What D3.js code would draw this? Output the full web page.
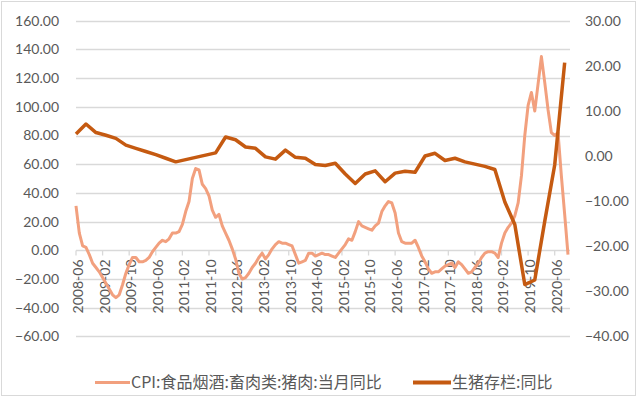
<!DOCTYPE html>
<html lang="zh-CN">
<head>
  <meta charset="utf-8">
  <title>CPI猪肉当月同比与生猪存栏同比</title>
  <script src="https://d3js.org/d3.v7.min.js"></script>
  <style>
body { margin: 0; background: #ffffff; }
#chart text { font-family: Lato, "Noto Sans CJK SC", sans-serif; fill: #595959; }
</style>
</head>
<body>
<div id="chart"></div>
<script>

// monthly categories 2008-06 .. 2020-10
var months = d3.timeMonth.range(new Date(2008, 5, 1), new Date(2020, 10, 1)).map(d3.timeFormat("%Y-%m"));

// tick labels shown on the category axis (every 8 months)
var xTickLabels = ["2008-06", "2009-02", "2009-10", "2010-06", "2011-02", "2011-10", "2012-06",
  "2013-02", "2013-10", "2014-06", "2015-02", "2015-10", "2016-06", "2017-02", "2017-10",
  "2018-06", "2019-02", "2019-10", "2020-06"];

var leftTicks = [-60, -40, -20, 0, 20, 40, 60, 80, 100, 120, 140, 160];
var rightTicks = [-40, -30, -20, -10, 0, 10, 20, 30];

// CPI:食品烟酒:畜肉类:猪肉:当月同比 (monthly, left axis)
var cpiPork = [
  31, 12, 3, 2, -3, -9, -12,
  -15, -19, -23, -27, -31, -33, -31, -24, -16, -10, -5, -5,
  -8, -8, -7, -5, -1, 2, 5, 7, 6, 8, 12, 12,
  13, 18, 27, 34, 50, 57, 56, 46, 43, 38, 28, 23,
  25, 17, 12, 7, 1, -6, -16, -20, -19, -16, -12, -9,
  -5, -2, -6, -3, 1, 4, 6, 5, 5, 4, 3, -3,
  -9, -8, -7, -2, -2, -4, -3, -2, -3, -3, -4, -5,
  -2, 1, 4, 8, 7, 13, 20, 17, 16, 15, 14, 17,
  19, 27, 31, 34, 33, 26, 12, 6, 5, 5, 5, 7,
  2, -4, -8, -13, -16, -15, -15, -13, -11, -10, -9, -12,
  -8, -10, -13, -16, -15, -12, -9, -5, -2, -1, -1, -2,
  -5, 5, 12, 16, 19, 24, 33, 52, 80, 101, 110, 97,
  116, 135, 117, 98, 82, 80, 82, 52, 25, -3
];

// 生猪存栏:同比 (quarterly, right axis)
var hogMonths = ["2008-06", "2008-09", "2008-12", "2009-03", "2009-06", "2009-09", "2009-12",
  "2010-03", "2010-06", "2010-09", "2010-12", "2011-03", "2011-06", "2011-09", "2011-12",
  "2012-03", "2012-06", "2012-09", "2012-12", "2013-03", "2013-06", "2013-09", "2013-12",
  "2014-03", "2014-06", "2014-09", "2014-12", "2015-03", "2015-06", "2015-09", "2015-12",
  "2016-03", "2016-06", "2016-09", "2016-12", "2017-03", "2017-06", "2017-09", "2017-12",
  "2018-03", "2018-06", "2018-09", "2018-12", "2019-03", "2019-06", "2019-09", "2019-12",
  "2020-03", "2020-06", "2020-09"];
var hogInventory = [4.9, 7.1, 5.2, 4.6, 3.9, 2.4, 1.7,
  1.0, 0.3, -0.5, -1.3, -0.8, -0.3, 0.2, 0.7,
  4.2, 3.6, 2.0, 1.7, -0.2, -0.7, 1.3, -0.3,
  -0.5, -1.9, -2.1, -1.6, -4.0, -6.1, -4.0, -3.3,
  -5.7, -3.8, -3.4, -3.6, 0.0, 0.6, -1.0, -0.5,
  -1.3, -1.8, -2.3, -3.0, -10.2, -15.2, -28.5, -27.5,
  -14.5, -2.0, 20.7];

var seriesNames = ["CPI:食品烟酒:畜肉类:猪肉:当月同比", "生猪存栏:同比"];
var colors = ["#F2A07E", "#C55A11"];

var width = 640, height = 399;
var plot = {left: 76, right: 568, top: 20.7, bottom: 336.4};

var svg = d3.select("#chart")
  .append("svg")
    .attr("width", width)
    .attr("height", height);

// outer frame
svg.append("rect")
  .attr("x", 1.5).attr("y", 1.5)
  .attr("width", 634).attr("height", 394)
  .attr("fill", "none")
  .attr("stroke", "#D9D9D9");

var x = d3.scalePoint().domain(months).range([plot.left, plot.right]);
var yL = d3.scaleLinear().domain([-60, 160]).range([plot.bottom, plot.top]);
var yR = d3.scaleLinear().domain([-40, 30]).range([plot.bottom, plot.top]);

// gridlines
svg.append("g")
  .selectAll("line")
  .data(leftTicks)
  .enter()
  .append("line")
    .attr("x1", plot.left).attr("x2", plot.right + 2)
    .attr("y1", function(d) { return Math.round(yL(d)) + 0.5; })
    .attr("y2", function(d) { return Math.round(yL(d)) + 0.5; })
    .attr("stroke", "#D9D9D9")
    .attr("stroke-width", 1.3);

// left axis
var leftAxis = svg.append("g")
  .attr("transform", "translate(" + (plot.left - 17) + ",0)")
  .call(d3.axisLeft(yL).tickValues(leftTicks).tickFormat(d3.format(".2f")).tickSize(0));
leftAxis.select(".domain").remove();
leftAxis.selectAll("text").attr("x", 0).style("font-size", "14px");

// right axis
var rightAxis = svg.append("g")
  .attr("transform", "translate(" + (plot.right + 17) + ",0)")
  .call(d3.axisRight(yR).tickValues(rightTicks).tickFormat(d3.format(".2f")).tickSize(0));
rightAxis.select(".domain").remove();
rightAxis.selectAll("text").attr("x", 0).style("font-size", "14px");

// category axis sits on the zero line of the left axis
var y0 = Math.round(yL(0)) + 0.5;
var catAxis = svg.append("g");
catAxis.selectAll("line")
  .data(xTickLabels)
  .enter()
  .append("line")
    .attr("x1", function(d) { return x(d); })
    .attr("x2", function(d) { return x(d); })
    .attr("y1", y0).attr("y2", y0 + 5)
    .attr("stroke", "#D9D9D9")
    .attr("stroke-width", 1.3);
catAxis.selectAll("text")
  .data(xTickLabels)
  .enter()
  .append("text")
    .attr("transform", function(d) { return "translate(" + (x(d) + 2) + "," + (y0 + 9) + ") rotate(-90)"; })
    .attr("dy", "0.35em")
    .attr("text-anchor", "end")
    .style("font-size", "14px")
    .text(function(d) { return d; });

// CPI pork line
svg.append("path")
  .datum(cpiPork)
  .attr("d", d3.line()
    .x(function(d, i) { return x(months[i]); })
    .y(function(d) { return yL(d); }))
  .attr("fill", "none")
  .attr("stroke", colors[0])
  .attr("stroke-width", 3)
  .attr("stroke-linejoin", "round");

// hog inventory line
svg.append("path")
  .datum(hogInventory)
  .attr("d", d3.line()
    .x(function(d, i) { return x(hogMonths[i]); })
    .y(function(d) { return yR(d); }))
  .attr("fill", "none")
  .attr("stroke", colors[1])
  .attr("stroke-width", 3.5)
  .attr("stroke-linejoin", "round");

// legend
var legendX = [95, 413];
var legend = svg.append("g")
  .selectAll("g")
  .data(seriesNames)
  .enter()
  .append("g")
    .attr("transform", function(d, i) { return "translate(" + legendX[i] + ",382.5)"; });
legend.append("line")
  .attr("x1", 0).attr("x2", function(d, i) { return i == 0 ? 35 : 38; })
  .attr("stroke", function(d, i) { return colors[i]; })
  .attr("stroke-width", function(d, i) { return i == 0 ? 3 : 4; });
legend.append("text")
  .attr("x", function(d, i) { return i == 0 ? 36 : 39; })
  .attr("dy", "0.35em")
  .style("font-family", "'Noto Sans CJK SC', sans-serif")
  .style("font-size", "16px")
  .text(function(d) { return d; });

</script>
</body>
</html>
